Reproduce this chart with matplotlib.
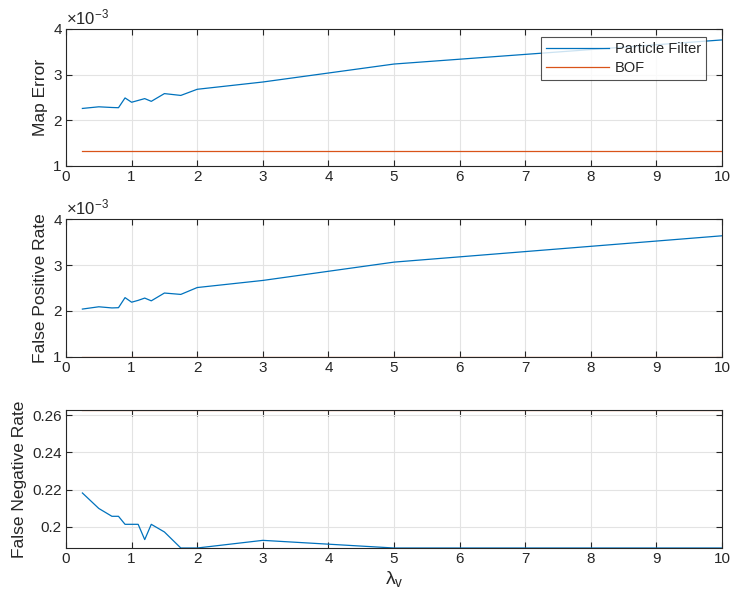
import matplotlib
matplotlib.use("Agg")
import matplotlib.pyplot as plt
import numpy as np

plt.rcParams['font.family'] = ['Liberation Sans', 'DejaVu Sans']
plt.rcParams['mathtext.fontset'] = 'custom'
plt.rcParams['mathtext.rm'] = 'Liberation Sans'
plt.rcParams['mathtext.it'] = 'Liberation Sans'
plt.rcParams['mathtext.bf'] = 'Liberation Sans:bold'

# ---- data ----
lambda_v = [0.25, 0.5, 0.7, 0.8, 0.9, 1.0, 1.1, 1.2, 1.3, 1.5, 1.75, 2, 3, 5, 10]
map_error_pf = [2.254e-3, 2.29e-3, 2.275e-3, 2.27e-3, 2.485e-3, 2.39e-3, 2.43e-3,
                2.47e-3, 2.41e-3, 2.58e-3, 2.54e-3, 2.675e-3, 2.835e-3, 3.23e-3, 3.76e-3]
map_error_bof = 1.31e-3
fpr_pf = [2.04e-3, 2.09e-3, 2.065e-3, 2.07e-3, 2.29e-3, 2.19e-3, 2.23e-3,
          2.28e-3, 2.22e-3, 2.39e-3, 2.36e-3, 2.51e-3, 2.665e-3, 3.065e-3, 3.64e-3]
fpr_bof = 1.0e-3
fnr_pf = [0.2182, 0.2099, 0.2057, 0.2057, 0.2014, 0.2014, 0.2014, 0.1932, 0.2014,
          0.1973, 0.1887, 0.1887, 0.1928, 0.1887, 0.1887]
fnr_bof = 0.2627
x_ticks = list(range(0, 11))

blue = '#0072BD'
orange = '#D95319'
axcol = '#262626'

fig = plt.figure(figsize=(7.32, 5.98), dpi=100)
L, W = 66 / 732, 656 / 732
rects = [
    (L, 1 - 165.5 / 598, W, 136.5 / 598),
    (L, 1 - 356.7 / 598, W, 137.4 / 598),
    (L, 1 - 548 / 598, W, 138 / 598),
]
axes = [fig.add_axes(r) for r in rects]

def style(ax):
    ax.set_xlim(0, 10)
    ax.set_xticks(x_ticks)
    ax.grid(True, color='#e3e3e3', linewidth=0.8)
    ax.set_axisbelow(True)
    for s in ax.spines.values():
        s.set_color(axcol)
        s.set_linewidth(0.8)
    ax.tick_params(direction='in', length=4.5, width=0.8, color=axcol,
                   labelcolor=axcol, labelsize=11, top=True, right=True, pad=3)

xs = np.array(lambda_v)
ax = axes[0]
ax.plot(xs, np.array(map_error_pf) * 1e3, color=blue, lw=0.9, label='Particle Filter')
ax.plot([xs[0], xs[-1]], np.array([map_error_bof] * 2) * 1e3, color=orange, lw=0.9, label='BOF')
ax.set_ylim(1, 4)
ax.set_yticks([1, 2, 3, 4])
style(ax)
ax.set_ylabel('Map Error', fontsize=12.5, color=axcol, labelpad=4)
ax.text(0.0, 1.015, r'$\times10^{-3}$', transform=ax.transAxes, fontsize=12,
        color=axcol, ha='left', va='bottom')
leg = ax.legend(loc='upper right', bbox_to_anchor=(0.976, 0.945), fontsize=10.5,
                frameon=True, fancybox=False, handlelength=4.3, borderpad=0.35,
                labelspacing=0.35, handletextpad=0.4, borderaxespad=0)
leg.get_frame().set_edgecolor(axcol)
leg.get_frame().set_linewidth(0.8)
for t in leg.get_texts():
    t.set_color(axcol)

ax = axes[1]
ax.plot(xs, np.array(fpr_pf) * 1e3, color=blue, lw=0.9)
ax.plot([xs[0], xs[-1]], np.array([fpr_bof] * 2) * 1e3, color=orange, lw=0.9)
ax.set_ylim(1, 4)
ax.set_yticks([1, 2, 3, 4])
style(ax)
ax.set_ylabel('False Positive Rate', fontsize=12.5, color=axcol, labelpad=4)
ax.text(0.0, 1.015, r'$\times10^{-3}$', transform=ax.transAxes, fontsize=12,
        color=axcol, ha='left', va='bottom')

ax = axes[2]
ax.plot(xs, fnr_pf, color=blue, lw=0.9)
ax.plot([xs[0], xs[-1]], [fnr_bof] * 2, color=orange, lw=0.9)
ax.set_ylim(min(fnr_pf), fnr_bof)
ax.set_yticks([0.2, 0.22, 0.24, 0.26])
ax.set_yticklabels(['0.2', '0.22', '0.24', '0.26'])
style(ax)
ax.set_ylabel('False Negative Rate', fontsize=12.5, color=axcol, labelpad=4)
ax.set_xlabel(r'$\lambda_\mathrm{v}$', fontsize=14, color=axcol, labelpad=2)

fig.savefig('out.png', dpi=100)
